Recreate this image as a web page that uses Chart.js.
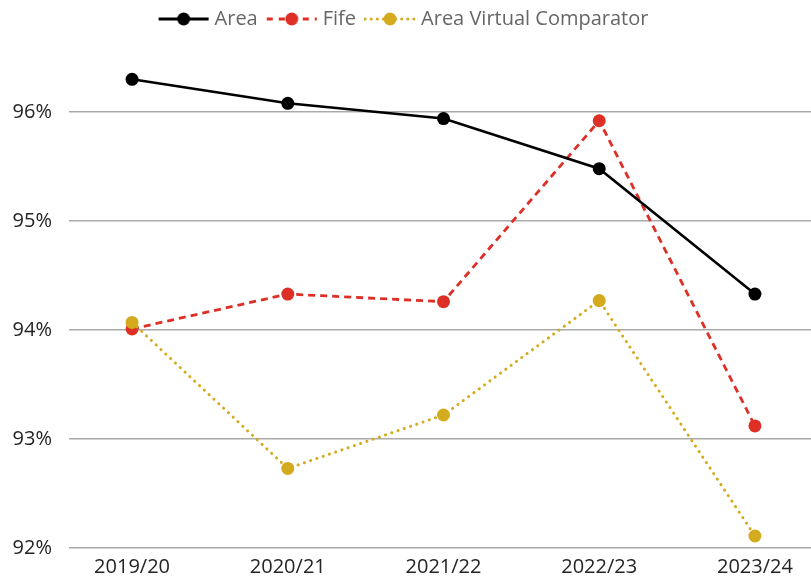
<!DOCTYPE html>
<html>
<head>
<meta charset="utf-8">
<script src="https://cdn.jsdelivr.net/npm/chart.js@4.4.1/dist/chart.umd.min.js"></script>
<style>
  html, body { margin: 0; padding: 0; background: #ffffff; overflow: hidden; }
  #wrap { width: 811px; height: 579px; }
  canvas { display: block; }
</style>
</head>
<body>
<div id="wrap"><canvas id="c" width="811" height="579"></canvas></div>
<script>
const categories = ['2019/20', '2020/21', '2021/22', '2022/23', '2023/24'];
const seriesNames = ['Area', 'Fife', 'Area Virtual Comparator'];
const areaValues = [96.30, 96.08, 95.94, 95.48, 94.33];
const fifeValues = [94.01, 94.33, 94.26, 95.92, 93.12];
const avcValues = [94.07, 92.73, 93.22, 94.27, 92.11];
const yTickValues = [92, 93, 94, 95, 96];

const FONT = '"Open Sans", "Noto Sans", sans-serif';

function makeMarker(color, dash, cap, lw) {
  const c = document.createElement('canvas');
  c.width = 52; c.height = 16;
  const g = c.getContext('2d');
  g.strokeStyle = color;
  g.lineWidth = lw;
  g.lineCap = cap;
  g.setLineDash(dash);
  g.beginPath();
  g.moveTo(1, 8); g.lineTo(51, 8);
  g.stroke();
  g.setLineDash([]);
  g.fillStyle = color;
  g.beginPath();
  g.arc(26, 8, 6.5, 0, Math.PI * 2);
  g.fill();
  return c;
}

const toPoints = arr => arr.map((v, i) => ({ x: i, y: v }));

const styles = [
  { color: '#000000', dash: [], cap: 'butt', lw: 2.5, order: 0, marker: makeMarker('#000000', [], 'butt', 3) },
  { color: '#DE2F26', dash: [7, 5], cap: 'butt', lw: 2.8, order: 2, marker: makeMarker('#DE2F26', [6, 6], 'butt', 3) },
  { color: '#D4AA1E', dash: [0.1, 6.5], cap: 'round', lw: 3, order: 1, marker: makeMarker('#D4AA1E', [0.1, 6], 'round', 3) }
];
const seriesValues = [areaValues, fifeValues, avcValues];

const datasets = seriesNames.map((name, k) => ({
  label: name,
  data: toPoints(seriesValues[k]),
  borderColor: styles[k].color,
  backgroundColor: styles[k].color,
  borderWidth: styles[k].lw,
  borderDash: styles[k].dash,
  borderCapStyle: styles[k].cap,
  pointRadius: 6.5,
  pointHoverRadius: 6.5,
  pointBorderWidth: 0,
  pointBackgroundColor: styles[k].color,
  tension: 0,
  clip: false,
  order: styles[k].order
}));

new Chart(document.getElementById('c'), {
  type: 'line',
  data: { datasets },
  options: {
    responsive: false,
    animation: false,
    layout: { autoPadding: false, padding: { top: -4, left: 0, right: 0, bottom: 0 } },
    plugins: {
      tooltip: { enabled: false },
      legend: {
        display: true,
        position: 'top',
        labels: {
          font: { family: FONT, size: 20 },
          color: '#666666',
          usePointStyle: true,
          pointStyleWidth: 42,
          boxHeight: 14,
          padding: 13,
          sort: (a, b) => a.datasetIndex - b.datasetIndex,
          generateLabels: chart => {
            const items = Chart.defaults.plugins.legend.labels.generateLabels(chart);
            items.forEach(it => { it.pointStyle = styles[it.datasetIndex].marker; });
            return items;
          }
        }
      }
    },
    scales: {
      x: {
        type: 'linear',
        min: -0.405,
        max: 4.36,
        grid: { display: false, drawTicks: false },
        border: { display: false },
        afterBuildTicks: s => { s.ticks = categories.map((_, i) => ({ value: i })); },
        afterFit: s => { s.height = 31; },
        ticks: {
          autoSkip: false,
          maxRotation: 0,
          padding: 7,
          color: '#252423',
          font: { family: FONT, size: 20 },
          callback: v => categories[v]
        }
      },
      y: {
        min: 92,
        max: 96.67,
        grid: { color: '#aaaaaa', lineWidth: 1.5, drawTicks: false },
        border: { display: false },
        afterBuildTicks: s => { s.ticks = yTickValues.map(v => ({ value: v })); },
        afterFit: s => { s.width = 69; },
        ticks: {
          padding: 17,
          color: '#252423',
          font: { family: FONT, size: 20 },
          callback: v => v + '%'
        }
      }
    }
  }
});
</script>
</body>
</html>
